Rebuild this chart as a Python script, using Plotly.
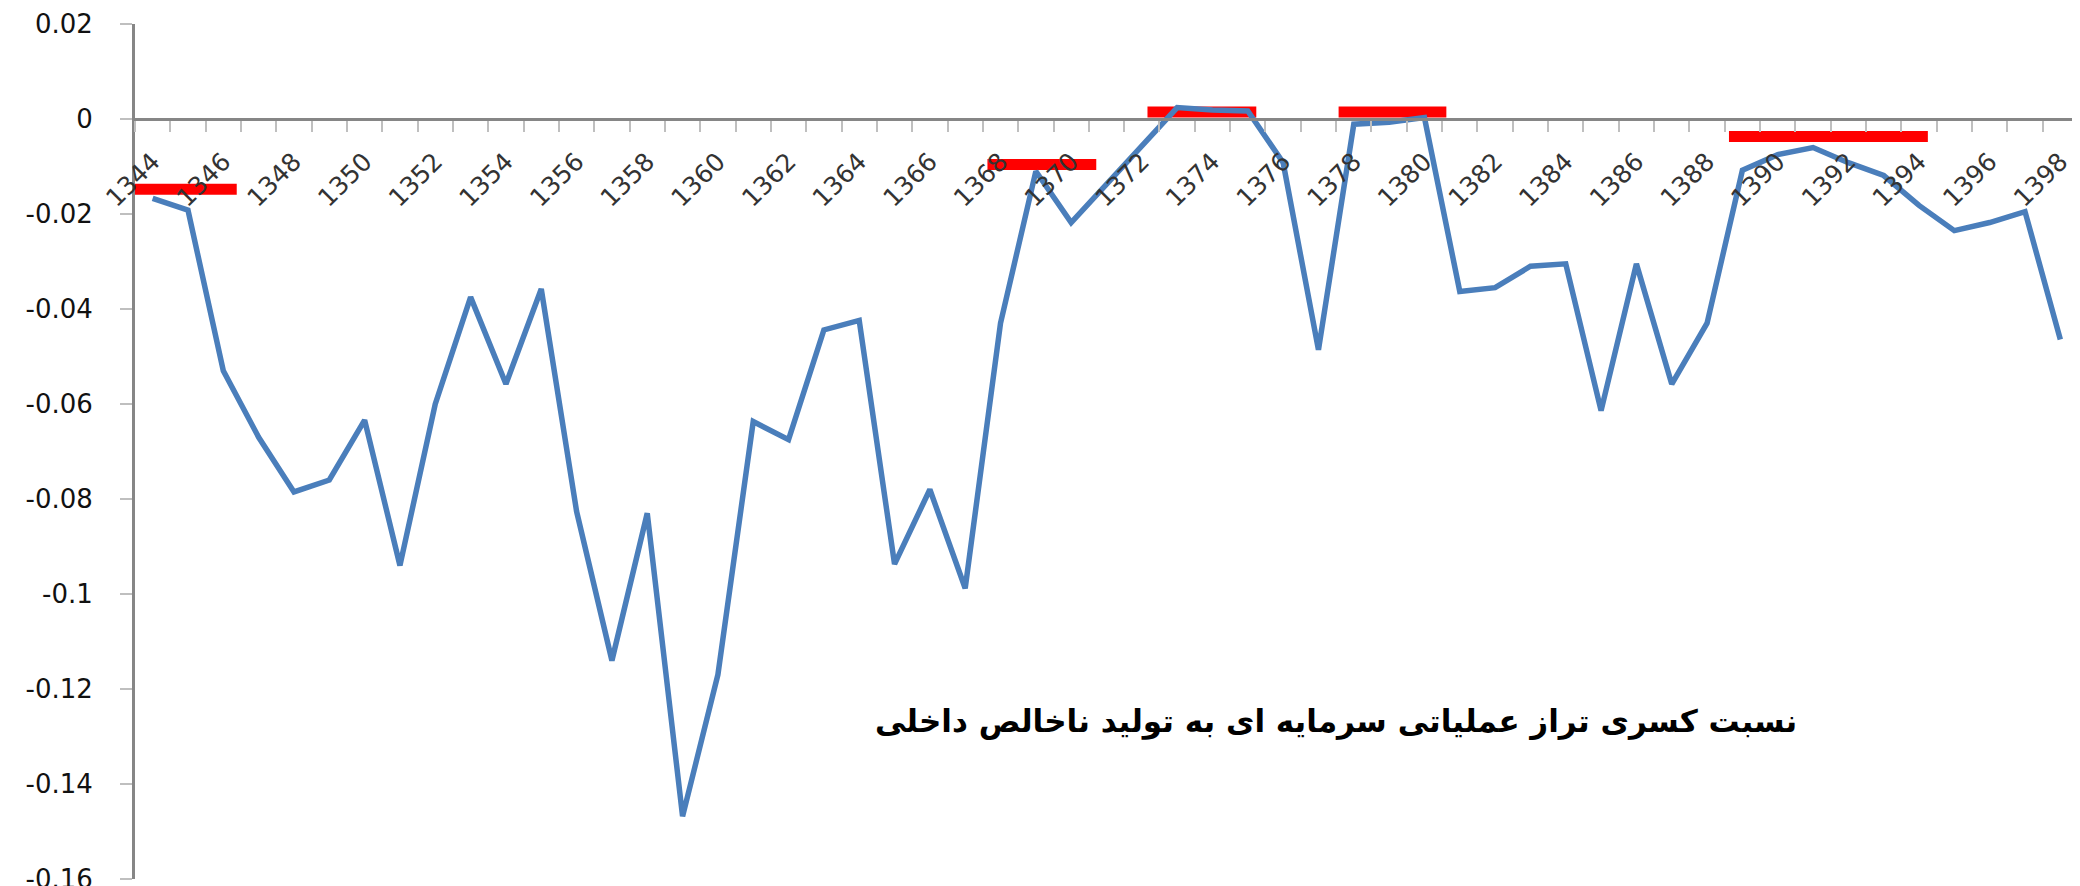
import plotly.graph_objects as go

# ---- data ----
years = list(range(1344, 1399))
ratio = [-0.0167, -0.0192, -0.0530, -0.0670, -0.0785, -0.0760, -0.0634, -0.0940, -0.0600, -0.0375,
         -0.0558, -0.0358, -0.0826, -0.1140, -0.0830, -0.1468, -0.1170, -0.0637, -0.0675, -0.0444,
         -0.0424, -0.0937, -0.0780, -0.0988, -0.0430, -0.0110, -0.0218, -0.0137, -0.0056, 0.0024,
         0.0019, 0.0017, -0.0092, -0.0486, -0.0011, -0.0007, 0.0003, -0.0363, -0.0355, -0.0310,
         -0.0305, -0.0614, -0.0305, -0.0558, -0.0430, -0.0108, -0.0075, -0.0060, -0.0092, -0.0119,
         -0.0182, -0.0235, -0.0218, -0.0195, -0.0464]

# red highlight segments (start year, end year, level)
red_start = [1343.31, 1367.63, 1372.16, 1377.57, 1388.62]
red_end = [1346.38, 1370.71, 1375.24, 1380.62, 1394.25]
red_level = [-0.0148, -0.0096, 0.0015, 0.0015, -0.0037]

x_tick_years = list(range(1344, 1399, 2))
x_tick_labels = [str(y) for y in x_tick_years]
y_tick_vals = [-0.16, -0.14, -0.12, -0.10, -0.08, -0.06, -0.04, -0.02, 0.0, 0.02]
y_tick_labels = ["-0.16", "-0.14", "-0.12", "-0.1", "-0.08", "-0.06", "-0.04", "-0.02", "0", "0.02"]

title_text = "نسبت کسری تراز عملیاتی سرمایه ای به تولید ناخالص داخلی"

y_min, y_max = -0.16, 0.02
x_min, x_max = years[0] - 0.5, years[-1] + 0.5

fig = go.Figure()

for s, e, lv in zip(red_start, red_end, red_level):
    fig.add_trace(go.Scatter(x=[s, e], y=[lv, lv], mode="lines",
                             line=dict(color="#FF0000", width=11),
                             hoverinfo="skip", showlegend=False))

fig.add_trace(go.Scatter(x=years, y=ratio, mode="lines",
                         line=dict(color="#4A7EBB", width=5.5),
                         showlegend=False))

fig.add_annotation(text="<b>" + title_text + "</b>", xref="paper", yref="paper",
                   x=0.8564, y=0.184, xanchor="right", yanchor="middle", showarrow=False,
                   font=dict(family="DejaVu Sans", size=31, color="#000000"))

axis_gray = "#868686"
tick_gray = "#BFBFBF"

fig.update_layout(
    width=2080, height=886,
    margin=dict(l=127, r=10, t=16, b=15, autoexpand=False),
    paper_bgcolor="white", plot_bgcolor="white",
    xaxis=dict(
        range=[x_min, x_max], anchor="free", position=(0 - y_min) / (y_max - y_min),
        showline=True, linecolor=axis_gray, linewidth=3,
        showgrid=False, zeroline=False,
        tickmode="array", tickvals=x_tick_years, ticktext=x_tick_labels,
        ticks="", tickangle=-45, ticklabelstandoff=16,
        tickfont=dict(family="DejaVu Sans", size=25, color="#333333"),
        minor=dict(tickmode="array", tickvals=[y - 0.5 for y in years] + [years[-1] + 0.5],
                   ticks="outside", ticklen=11, tickwidth=2, tickcolor=tick_gray, showgrid=False),
    ),
    yaxis=dict(
        range=[y_min, y_max], domain=[0, 1],
        showline=True, linecolor=axis_gray, linewidth=3,
        showgrid=False, zeroline=False,
        tickmode="array", tickvals=y_tick_vals, ticktext=y_tick_labels,
        ticks="outside", ticklen=12, tickwidth=2, tickcolor=tick_gray,
        ticklabelstandoff=22, ticklabeloverflow="allow",
        tickfont=dict(family="DejaVu Sans", size=26, color="#111111"),
    ),
)

fig.write_html("out.html")
